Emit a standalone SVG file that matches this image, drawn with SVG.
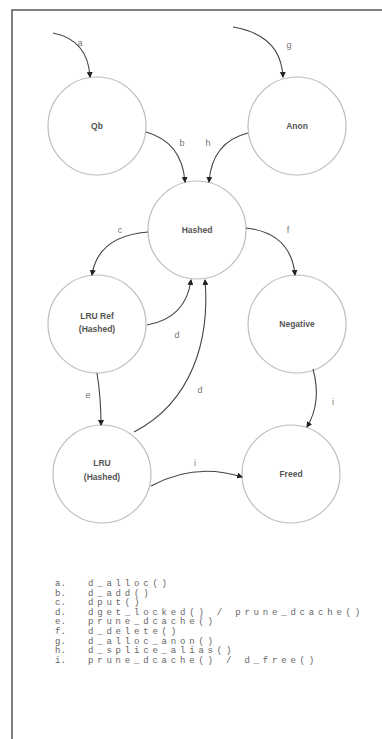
<svg xmlns="http://www.w3.org/2000/svg" width="382" height="739" viewBox="0 0 382 739">
<defs>
<marker id="ah" markerWidth="6" markerHeight="6" refX="5" refY="3" orient="auto" markerUnits="userSpaceOnUse">
<path d="M0,0 L6,3 L0,6 z" fill="#222"/>
</marker>
<style>
.st{fill:#fff;stroke:#bdbdbd;stroke-width:1.2}
.nt{font-family:"Liberation Sans",Arial,sans-serif;font-size:8.5px;font-weight:bold;fill:#555;text-anchor:middle}
.cn{fill:none;stroke:#444;stroke-width:1.1;marker-end:url(#ah)}
.lb{font-family:"Liberation Sans",Arial,sans-serif;font-size:9px;fill:#777;text-anchor:middle}
.lg{font-family:"Liberation Mono","Courier New",monospace;font-size:9px;fill:#666}
.lt{letter-spacing:3.8px}
</style>
</defs>
<rect width="382" height="739" fill="#fff"/>
<rect x="12" y="10" width="400" height="800" fill="none" stroke="#555" stroke-width="1.5"/>

<g id="n-qb"><circle class="st" cx="97" cy="126" r="49"/><text class="nt" x="97" y="129">Qb</text></g>
<g id="n-anon"><circle class="st" cx="297" cy="126" r="49"/><text class="nt" x="297" y="129">Anon</text></g>
<g id="n-hashed"><circle class="st" cx="197" cy="230" r="49"/><text class="nt" x="197" y="233">Hashed</text></g>
<g id="n-lruref"><circle class="st" cx="97" cy="324" r="49"/><text class="nt" x="97" y="319">LRU Ref</text><text class="nt" x="97" y="332">(Hashed)</text></g>
<g id="n-negative"><circle class="st" cx="297" cy="324" r="49"/><text class="nt" x="297" y="327">Negative</text></g>
<g id="n-lru"><circle class="st" cx="102" cy="474" r="49"/><text class="nt" x="102" y="466">LRU</text><text class="nt" x="102" y="480">(Hashed)</text></g>
<g id="n-freed"><circle class="st" cx="291" cy="474" r="49"/><text class="nt" x="291" y="477">Freed</text></g>

<g id="connectors">
<path class="cn" d="M53,33 Q88,40 90,77"/>
<path class="cn" d="M233,27 Q281,35 283,77"/>
<path class="cn" d="M146,132 Q182,142 185,182"/>
<path class="cn" d="M248,133 Q212,142 209,182"/>
<path class="cn" d="M148,232 Q98,236 92,275"/>
<path class="cn" d="M246,228 Q291,233 295,275"/>
<path class="cn" d="M147,325 Q186,318 191,280"/>
<path class="cn" d="M134,432 C192,402 210,340 205,280"/>
<path class="cn" d="M97,373 Q101,398 101,425"/>
<path class="cn" d="M313,369 Q322,402 307,427"/>
<path class="cn" d="M151,486 Q195,462 242,477"/>
<text class="lb" x="80" y="46">a</text>
<text class="lb" x="289" y="48">g</text>
<text class="lb" x="182" y="146">b</text>
<text class="lb" x="208" y="146">h</text>
<text class="lb" x="120" y="233">c</text>
<text class="lb" x="288" y="233">f</text>
<text class="lb" x="177" y="338">d</text>
<text class="lb" x="200" y="393">d</text>
<text class="lb" x="88" y="398">e</text>
<text class="lb" x="333" y="405">i</text>
<text class="lb" x="195" y="466">i</text>
</g>

<g id="legend">
<text class="lg" x="55" y="586">a.</text>
<text class="lg" x="55" y="595.6">b.</text>
<text class="lg" x="55" y="605.2">c.</text>
<text class="lg" x="55" y="614.8">d.</text>
<text class="lg" x="55" y="624.4">e.</text>
<text class="lg" x="55" y="634">f.</text>
<text class="lg" x="55" y="643.6">g.</text>
<text class="lg" x="55" y="653.2">h.</text>
<text class="lg" x="55" y="662.8">i.</text>
<text class="lg lt" x="88" y="586">d_alloc()</text>
<text class="lg lt" x="88" y="595.6">d_add()</text>
<text class="lg lt" x="88" y="605.2">dput()</text>
<text class="lg lt" x="88" y="614.8">dget_locked() / prune_dcache()</text>
<text class="lg lt" x="88" y="624.4">prune_dcache()</text>
<text class="lg lt" x="88" y="634">d_delete()</text>
<text class="lg lt" x="88" y="643.6">d_alloc_anon()</text>
<text class="lg lt" x="88" y="653.2">d_splice_alias()</text>
<text class="lg lt" x="88" y="662.8">prune_dcache() / d_free()</text>
</g>
</svg>
